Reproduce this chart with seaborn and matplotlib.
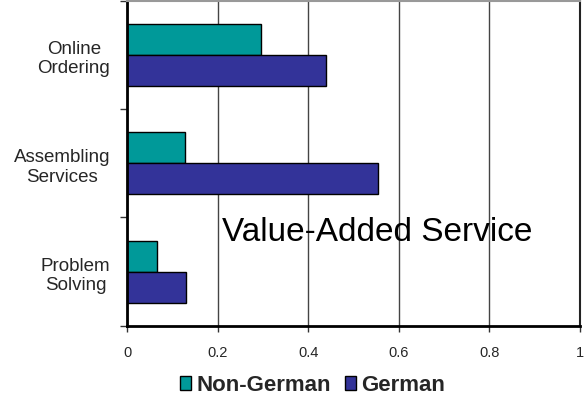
import pandas as pd
import matplotlib.pyplot as plt
import seaborn as sns

categories = ['Online\nOrdering', 'Assembling\nServices', 'Problem\nSolving']
non_german = [0.296, 0.128, 0.066]
german = [0.44, 0.554, 0.13]
series_names = ['Non-German', 'German']
x_ticks = [0, 0.2, 0.4, 0.6, 0.8, 1.0]
x_tick_labels = ['0', '0.2', '0.4', '0.6', '0.8', '1']

df = pd.DataFrame({
    'category': categories * 2,
    'value': non_german + german,
    'group': [series_names[0]] * 3 + [series_names[1]] * 3,
})

sns.set_style('white')
plt.rcParams['font.family'] = ['Liberation Sans', 'DejaVu Sans']

fig = plt.figure(figsize=(5.88, 4.02), dpi=100)
ax = fig.add_axes([0.216, 0.187, 0.77, 0.809])

sns.barplot(data=df, x='value', y='category', hue='group', orient='h',
            order=categories, hue_order=series_names,
            palette=['#009999', '#333399'], saturation=1, width=0.57,
            edgecolor='black', linewidth=1, ax=ax, errorbar=None)

ax.set_xlim(0, 1)
ax.set_ylim(2.5, -0.5)
ax.set_xticks(x_ticks)
ax.set_xticklabels(x_tick_labels, fontsize=10.5)
ax.xaxis.grid(True, color='#444444', linewidth=1)
ax.set_axisbelow(True)

# category labels in the middle, tick marks on the boundaries
ax.set_yticks([-0.5, 0.5, 1.5, 2.5])
ax.set_yticklabels([])
ax.set_yticks([0, 1, 2], minor=True)
ax.set_yticklabels(categories, minor=True, fontsize=13.5, ha='right',
                   multialignment='center')
ax.tick_params(axis='y', which='minor', length=0, pad=12)
ax.tick_params(axis='y', which='major', length=5, width=1, color='#333333', left=True)
ax.tick_params(axis='x', length=4, width=1, color='#333333', bottom=True, pad=10)

ax.set_xlabel('')
ax.set_ylabel('')

for side in ['left', 'bottom']:
    ax.spines[side].set_color('black')
    ax.spines[side].set_linewidth(2)
ax.spines['top'].set_color('#999999')
ax.spines['top'].set_linewidth(1.5)
ax.spines['right'].set_color('#222222')
ax.spines['right'].set_linewidth(1.5)

ax.text(0.552, 0.29, 'Value-Added Service', transform=ax.transAxes,
        fontsize=24, ha='center', va='center', color='black')

handles, labels = ax.get_legend_handles_labels()
ax.get_legend().remove()
fig.legend(handles, labels, loc='center', bbox_to_anchor=(0.532, 0.04), ncol=2,
           frameon=False, prop={'weight': 'bold', 'size': 16},
           handlelength=0.5, handleheight=0.6, handletextpad=0.25, columnspacing=0.6)

fig.savefig('out.png', dpi=100)
